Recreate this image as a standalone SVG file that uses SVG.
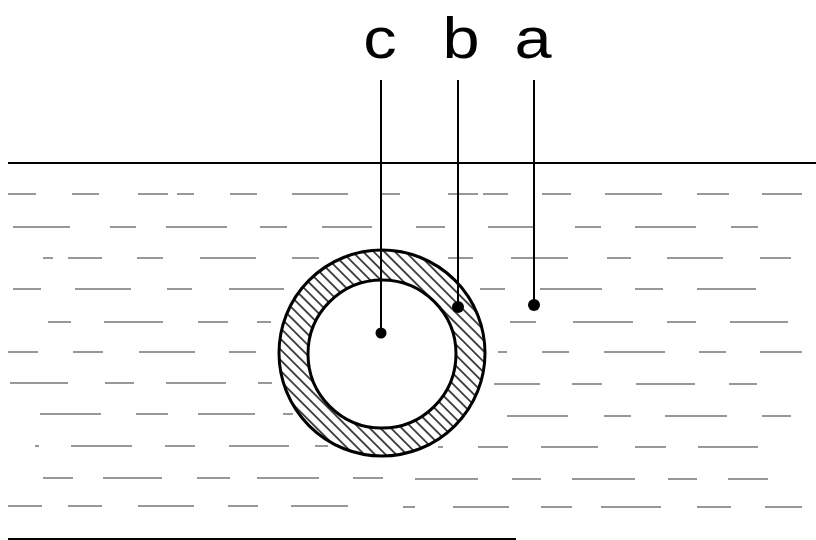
<svg xmlns="http://www.w3.org/2000/svg" width="816" height="540" viewBox="0 0 816 540">
<style>
.lbl{font-family:"Liberation Sans",Arial,sans-serif;font-size:58px;fill:#000;text-anchor:middle}
.ln{stroke:#000;stroke-width:2;fill:none}
.d{stroke:#333;stroke-width:1.2;fill:none}
</style>
<defs>
<pattern id="hatch" patternUnits="userSpaceOnUse" width="7.5" height="7.5" patternTransform="rotate(45)">
<line x1="0" y1="3.75" x2="7.5" y2="3.75" stroke="#000" stroke-width="1.4"/>
</pattern>
</defs>
<rect width="816" height="540" fill="#fff"/>
<g id="water">
<line x1="8" y1="163" x2="816" y2="163" class="ln"/>
<line x1="8" y1="539" x2="516" y2="539" class="ln"/>
<path class="d" d="
M8,194H36M72,194H99M138,194H168M177,194H194M230,194H257M292,194H348M380,194H400M448,194H478M483,194H508M542,194H571M605,194H662M697,194H729M762,194H802
M13,227H70M110,227H136M166,227H227M260,227H287M322,227H372M416,227H445M488,227H535M575,227H601M635,227H696M731,227H758
M43,258H53M68,258H102M137,258H163M200,258H256M292,258H319M448,258H473M511,258H568M607,258H631M667,258H723M760,258H791
M13,289H41M75,289H131M167,289H192M229,289H284M480,289H505M540,289H602M635,289H663M697,289H756
M48,322H71M104,322H163M198,322H228M257,322H271M510,322H536M573,322H633M667,322H696M730,322H788
M8,352H38M73,352H103M139,352H195M229,352H256M498,352H507M542,352H569M604,352H665M699,352H726M760,352H802
M10,383H68M105,383H134M166,383H226M258,383H272M494,384H540M572,384H602M636,384H695M729,384H757
M40,414H101M136,414H168M198,414H255M283,414H293M507,416H568M604,416H631M665,416H727M762,416H791
M35,446H39M71,446H132M165,446H195M229,446H289M315,446H328M438,447H443M478,447H508M541,447H598M635,447H666M698,447H758
M43,478H73M103,478H162M197,478H230M257,478H319M353,478H383M415,479H478M512,479H541M572,479H635M668,479H697M728,479H768
M8,506H42M68,506H102M138,506H194M228,506H258M291,506H348M403,507H415M453,507H509M541,507H572M601,507H661M697,507H731M765,507H802"/>
</g>
<g id="pipe">
<path d="M279,353a103,103 0 1,0 206,0a103,103 0 1,0 -206,0Z M308,354a74,74 0 1,0 148,0a74,74 0 1,0 -148,0Z" fill="url(#hatch)" fill-rule="evenodd" stroke="none"/>
<circle cx="382" cy="353" r="103" fill="none" stroke="#000" stroke-width="3"/>
<circle cx="382" cy="354" r="74" fill="#fff" stroke="#000" stroke-width="3"/>
</g>
<g id="connectors">
<line x1="381" y1="80" x2="381" y2="333" class="ln"/>
<line x1="458" y1="80" x2="458" y2="307" class="ln"/>
<line x1="534" y1="80" x2="534" y2="305" class="ln"/>
</g>
<g id="c"><circle cx="381" cy="333" r="5.5"/><text class="lbl" x="380" y="58" transform="translate(380 58) scale(1.15 1) translate(-380 -58)">c</text></g>
<g id="b"><circle cx="458" cy="307" r="6"/><text class="lbl" x="461" y="58" transform="translate(461 58) scale(1.15 1) translate(-461 -58)">b</text></g>
<g id="a"><circle cx="534" cy="305" r="6"/><text class="lbl" x="533" y="58" transform="translate(533 58) scale(1.15 1) translate(-533 -58)">a</text></g>
</svg>
